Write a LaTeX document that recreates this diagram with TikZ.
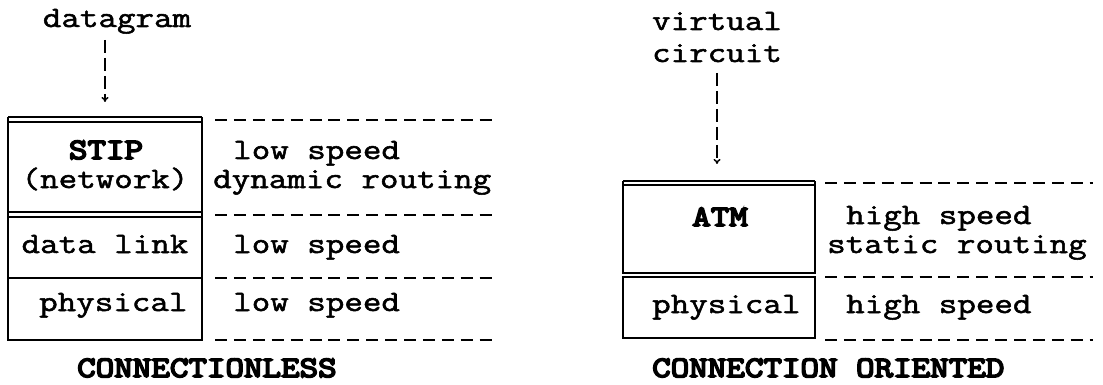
\documentclass[tikz,border=0pt]{standalone}
\usepackage{fontspec}
\setmainfont{Latin Modern Mono}[FakeStretch=1.22,FakeBold=1.8]
\newfontfamily\boldmono{Latin Modern Mono}[FakeStretch=1.22,FakeBold=6]
\usetikzlibrary{arrows.meta}
\begin{document}
\begin{tikzpicture}[x=1pt,y=-1pt,
  cellbox/.style={draw,line width=1.6pt,inner sep=0pt,minimum width=194pt},
  txt/.style={font=\fontsize{29.5}{29.5}\selectfont,inner sep=0pt},
  btxt/.style={font=\fontsize{29.5}{29.5}\boldmono,inner sep=0pt},
  typed/.style={line width=2.6pt,dash pattern=on 12pt off 6.9pt},
  feed/.style={line width=1.5pt,dash pattern=on 13pt off 5pt,-{To[length=5pt,width=7pt]}},
  dbl/.style={line width=1.2pt}
]
\useasboundingbox (0,0) rectangle (1103,385);

% ---------------- left stack ----------------
\node[cellbox,minimum height=95pt] (stip) at (105,169.5) {};
\node[cellbox,minimum height=61pt] (dl) at (105,247.5) {};
\node[cellbox,minimum height=62pt] (phl) at (105,309) {};
\draw[dbl] (8,117) -- (202,117);
\draw[dbl] (8,117) -- (8,122);
\draw[dbl] (202,117) -- (202,122);
\draw[dbl] (8,212) -- (202,212);

\node[txt,anchor=base] (dg) at (117,27) {datagram};
\coordinate (dgtip) at (105,102);
\draw[feed] (105,40) -- (dgtip);

\node[btxt,anchor=base] (stipt) at (106,159) {STIP};
\node[txt,anchor=base] (net) at (105,188) {(network)};
\node[txt,anchor=base] (dlt) at (105,253) {data link};
\node[txt,anchor=base west] (pht) at (39,311) {physical};
\node[btxt,anchor=base west] (cl) at (77,377) {CONNECTIONLESS};

\draw[typed] (215,120) -- (497,120);
\draw[typed] (215,215) -- (497,215);
\draw[typed] (215,278) -- (497,278);
\draw[typed] (215,340) -- (497,340);
\node[txt,anchor=base west] (ls1) at (233,159) {low speed};
\node[txt,anchor=base west] (dr) at (213,188) {dynamic routing};
\node[txt,anchor=base west] (ls2) at (233,253) {low speed};
\node[txt,anchor=base west] (ls3) at (233,311) {low speed};

% ---------------- right stack ----------------
\node[cellbox,minimum height=88pt,minimum width=192pt] (atm) at (719,229) {};
\node[cellbox,minimum height=61pt,minimum width=192pt] (phr) at (719,307.5) {};
\draw[dbl] (623,181) -- (815,181);
\draw[dbl] (623,181) -- (623,185);
\draw[dbl] (815,181) -- (815,185);
\draw[dbl] (623,273) -- (815,273);

\node[txt,anchor=base] (vi) at (717,30) {virtual};
\node[txt,anchor=base] (ci) at (717,62) {circuit};
\coordinate (citip) at (717,164);
\draw[feed] (717,73) -- (citip);

\node[btxt,anchor=base] (atmt) at (720,226) {ATM};
\node[txt,anchor=base west] (phrt) at (652,313) {physical};
\node[btxt,anchor=base west] (co) at (652,377) {CONNECTION ORIENTED};

\draw[typed] (825,183) -- (1093,183);
\draw[typed] (825,277) -- (1093,277);
\draw[typed] (825,340) -- (1093,340);
\node[txt,anchor=base west] (hs1) at (846,224) {high speed};
\node[txt,anchor=base west] (sr) at (827,253) {static routing};
\node[txt,anchor=base west] (hs2) at (846,313) {high speed};
\end{tikzpicture}
\end{document}
